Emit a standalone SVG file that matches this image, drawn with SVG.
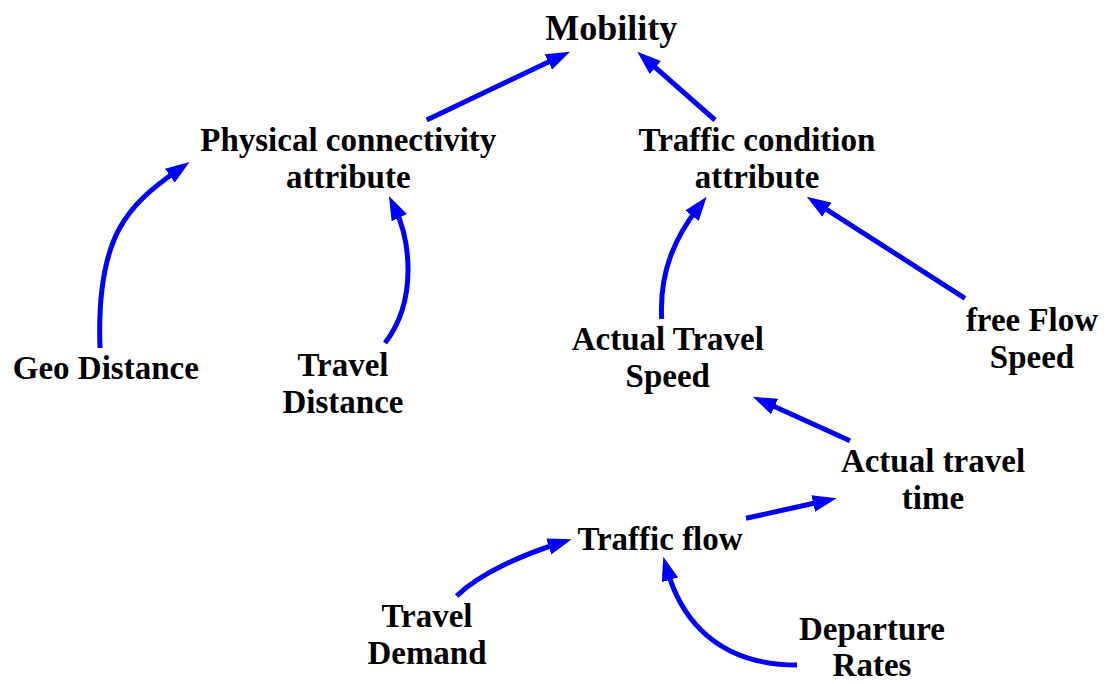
<svg xmlns="http://www.w3.org/2000/svg" width="1108" height="684" viewBox="0 0 1108 684">
<style>
text{font-family:"Liberation Serif","Times New Roman",serif;font-weight:bold;font-size:33px;fill:#000;text-anchor:middle}
.big{font-size:36px}
.c{fill:none;stroke:#0000ff;stroke-width:5;marker-end:url(#ah)}
</style>
<defs>
<marker id="ah" viewBox="0 0 24 17" refX="10" refY="8.5" markerWidth="24" markerHeight="17" markerUnits="userSpaceOnUse" orient="auto">
<path d="M0,0 L24,8.5 L0,17 z" fill="#0000ff"/>
</marker>
</defs>
<rect width="1108" height="684" fill="#fff"/>
<g id="connectors">
<path class="c" d="M426.7,120 L557.4,57.7"/>
<path class="c" d="M715,120 L647.8,60.9"/>
<path class="c" d="M100,348 C96,235 128,205 178,170"/>
<path class="c" d="M385,343 C418,300 410,240 395,208.6"/>
<path class="c" d="M661.7,319 C659,270 676.6,235.5 698.1,207.8"/>
<path class="c" d="M965,298.3 L818.5,204.3"/>
<path class="c" d="M850,440.7 L765.5,402.5"/>
<path class="c" d="M746,518.3 L823,501.3"/>
<path class="c" d="M456.7,596 C480,573 524.9,554 558.3,543.5"/>
<path class="c" d="M797,665 C705,665 676.9,603.9 667.2,570.2"/>
</g>
<g id="mobility"><text class="big" x="611.3" y="40">Mobility</text></g>
<g id="physical"><text x="348.3" y="151">Physical connectivity</text><text x="348.3" y="188">attribute</text></g>
<g id="traffic-condition"><text x="757" y="151">Traffic condition</text><text x="757" y="188">attribute</text></g>
<g id="geo-distance"><text x="105.8" y="379">Geo Distance</text></g>
<g id="travel-distance"><text x="343" y="376">Travel</text><text x="343" y="413">Distance</text></g>
<g id="actual-travel-speed"><text x="667.8" y="350">Actual Travel</text><text x="667.8" y="387">Speed</text></g>
<g id="free-flow-speed"><text x="1032" y="331">free Flow</text><text x="1032" y="368">Speed</text></g>
<g id="actual-travel-time"><text x="933" y="472">Actual travel</text><text x="933" y="509">time</text></g>
<g id="traffic-flow"><text x="660" y="550">Traffic flow</text></g>
<g id="travel-demand"><text x="427" y="627">Travel</text><text x="427" y="664">Demand</text></g>
<g id="departure-rates"><text x="872" y="640">Departure</text><text x="872" y="676">Rates</text></g>
</svg>
